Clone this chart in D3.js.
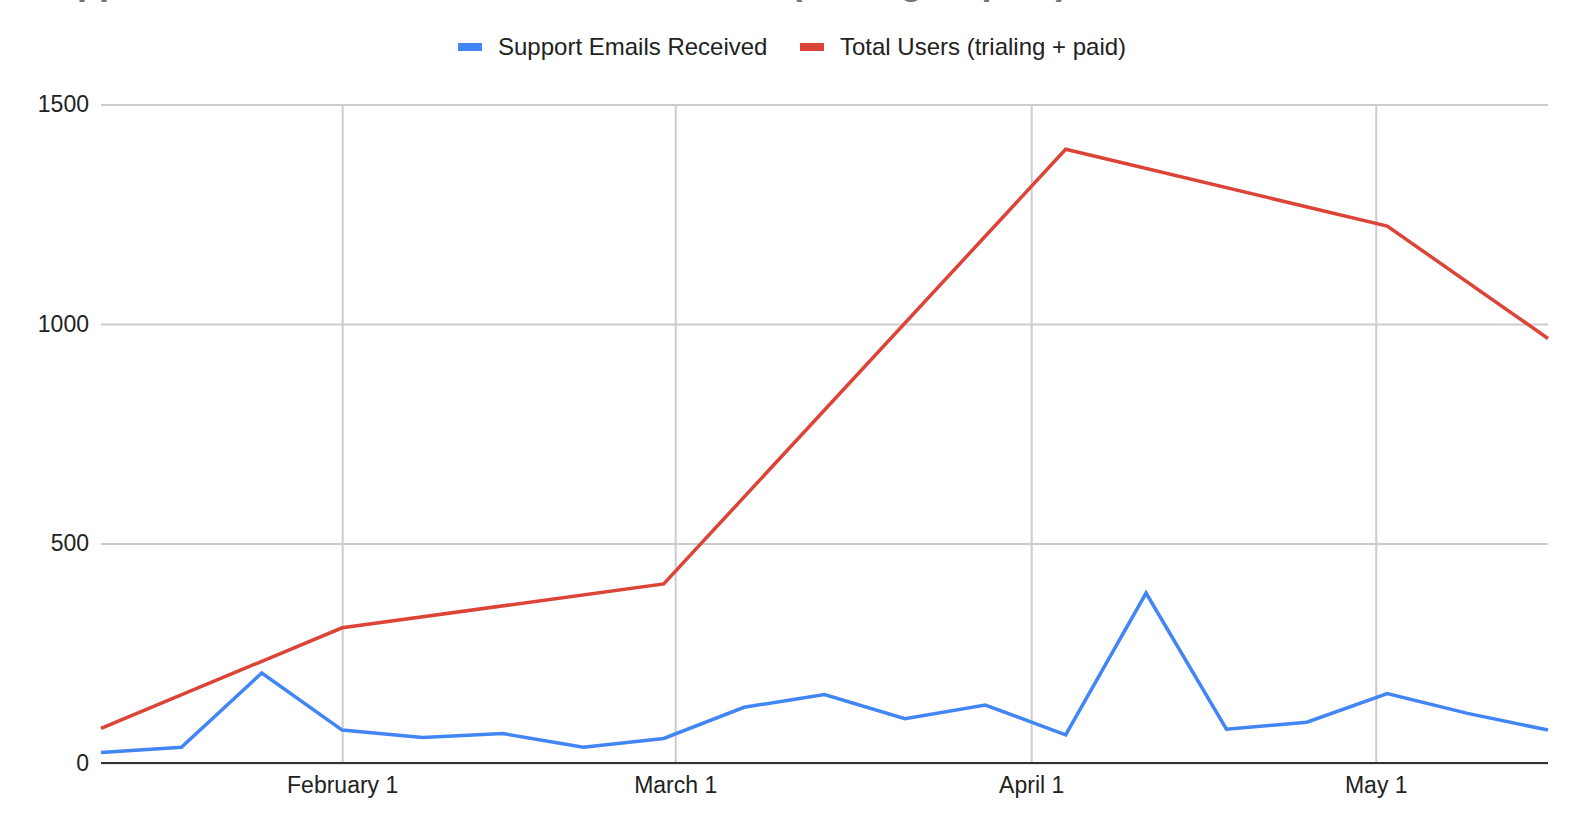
<!DOCTYPE html>
<html>
<head>
<meta charset="utf-8">
<script src="https://cdn.jsdelivr.net/npm/d3@7"></script>
<style>
  body { margin: 0; background: #fff; }
  svg { display: block; font-family: Arial, "Liberation Sans", Helvetica, sans-serif; }
</style>
</head>
<body>
<svg id="chart" width="1588" height="834"></svg>
<script>
let width = 1588;
let height = 834;
let margin = {top: 104.5, right: 40, bottom: 71, left: 101};

// weekly dates (2020)
let weeks = ['2020-01-11', '2020-01-18', '2020-01-25', '2020-02-01', '2020-02-08',
    '2020-02-15', '2020-02-22', '2020-02-29', '2020-03-07', '2020-03-14',
    '2020-03-21', '2020-03-28', '2020-04-04', '2020-04-11', '2020-04-18',
    '2020-04-25', '2020-05-02', '2020-05-09', '2020-05-16'];
let supportEmails = [24, 36, 205, 75, 58, 67, 36, 56, 127, 156,
    101, 132, 64, 387, 77, 93, 158, 113, 75];
// only recorded on some weeks
let totalUsers = [79, null, null, 308, null, null, null, 408, null, null,
    null, null, 1398, null, null, null, 1223, null, 967];

let seriesNames = ['Support Emails Received', 'Total Users (trialing + paid)'];
let seriesColors = ['#4285f4', '#db4437'];
let yTicks = [0, 500, 1000, 1500];
let monthTicks = ['2020-02-01', '2020-03-01', '2020-04-01', '2020-05-01'];
let title = 'Support Emails Received vs. Total Users (trialing + paid)';

let parse = d3.utcParse('%Y-%m-%d');
let dates = weeks.map(parse);

let svg = d3.select('#chart');

let xScale = d3.scaleUtc()
    .domain([dates[0], dates[dates.length - 1]])
    .range([margin.left, width - margin.right]);

let yScale = d3.scaleLinear()
    .domain([0, 1500])
    .range([height - margin.bottom, margin.top]);

// title (mostly scrolled off the top, only descenders show)
svg.append('text')
    .attr('x', 31)
    .attr('y', -6.5)
    .attr('font-size', 36)
    .attr('font-weight', 'bold')
    .attr('word-spacing', 9)
    .attr('fill', '#757575')
    .text(title);

// horizontal grid
svg.append('g')
    .attr('transform', `translate(${margin.left},0)`)
    .call(d3.axisLeft(yScale).tickValues(yTicks).tickSize(-(width - margin.left - margin.right)).tickFormat(''))
    .call(g => g.select('.domain').remove())
    .call(g => g.selectAll('line').attr('stroke', '#cccccc').attr('stroke-width', 2));

// vertical grid at month starts
svg.append('g')
    .attr('transform', `translate(0,${height - margin.bottom})`)
    .call(d3.axisBottom(xScale).tickValues(monthTicks.map(parse)).tickSize(-(height - margin.top - margin.bottom)).tickFormat(''))
    .call(g => g.select('.domain').remove())
    .call(g => g.selectAll('line').attr('stroke', '#cccccc').attr('stroke-width', 2));

// y labels
svg.append('g')
    .attr('transform', `translate(${margin.left},0)`)
    .call(d3.axisLeft(yScale).tickValues(yTicks).tickSize(0).tickPadding(12).tickFormat(d3.format('d')))
    .call(g => g.select('.domain').remove())
    .call(g => g.selectAll('text')
        .attr('font-size', 23)
        .attr('font-family', 'Arial, "Liberation Sans", sans-serif')
        .attr('fill', '#222'));

// x labels
svg.append('g')
    .attr('transform', `translate(0,${height - margin.bottom})`)
    .call(d3.axisBottom(xScale).tickValues(monthTicks.map(parse)).tickSize(0).tickPadding(14).tickFormat(d3.utcFormat('%B %-d')))
    .call(g => g.select('.domain').remove())
    .call(g => g.selectAll('text')
        .attr('font-size', 23)
        .attr('font-family', 'Arial, "Liberation Sans", sans-serif')
        .attr('fill', '#222'));

// lines
let line = d3.line()
    .x(d => xScale(d.date))
    .y(d => yScale(d.value));

let series = [supportEmails, totalUsers].map(vals =>
    dates.map((date, i) => ({date: date, value: vals[i]})).filter(d => d.value != null));

svg.selectAll('path.series')
    .data(series)
    .enter()
    .append('path')
    .attr('class', 'series')
    .attr('fill', 'none')
    .attr('stroke', (d, i) => seriesColors[i])
    .attr('stroke-width', 3.5)
    .attr('stroke-linejoin', 'miter')
    .attr('d', line);

// baseline
svg.append('line')
    .attr('x1', margin.left)
    .attr('x2', width - margin.right)
    .attr('y1', yScale(0))
    .attr('y2', yScale(0))
    .attr('stroke', '#333')
    .attr('stroke-width', 2);

// legend
let legendX = [458, 800];
let legend = svg.selectAll('g.legend')
    .data(seriesNames)
    .enter()
    .append('g')
    .attr('class', 'legend')
    .attr('transform', (d, i) => `translate(${legendX[i]},47)`);

legend.append('rect')
    .attr('x', 0)
    .attr('y', -4)
    .attr('width', 24)
    .attr('height', 8)
    .attr('fill', (d, i) => seriesColors[i]);

legend.append('text')
    .attr('x', 40)
    .attr('dy', '0.35em')
    .attr('font-size', 24)
    .attr('fill', '#222')
    .text(d => d);
</script>
</body>
</html>
